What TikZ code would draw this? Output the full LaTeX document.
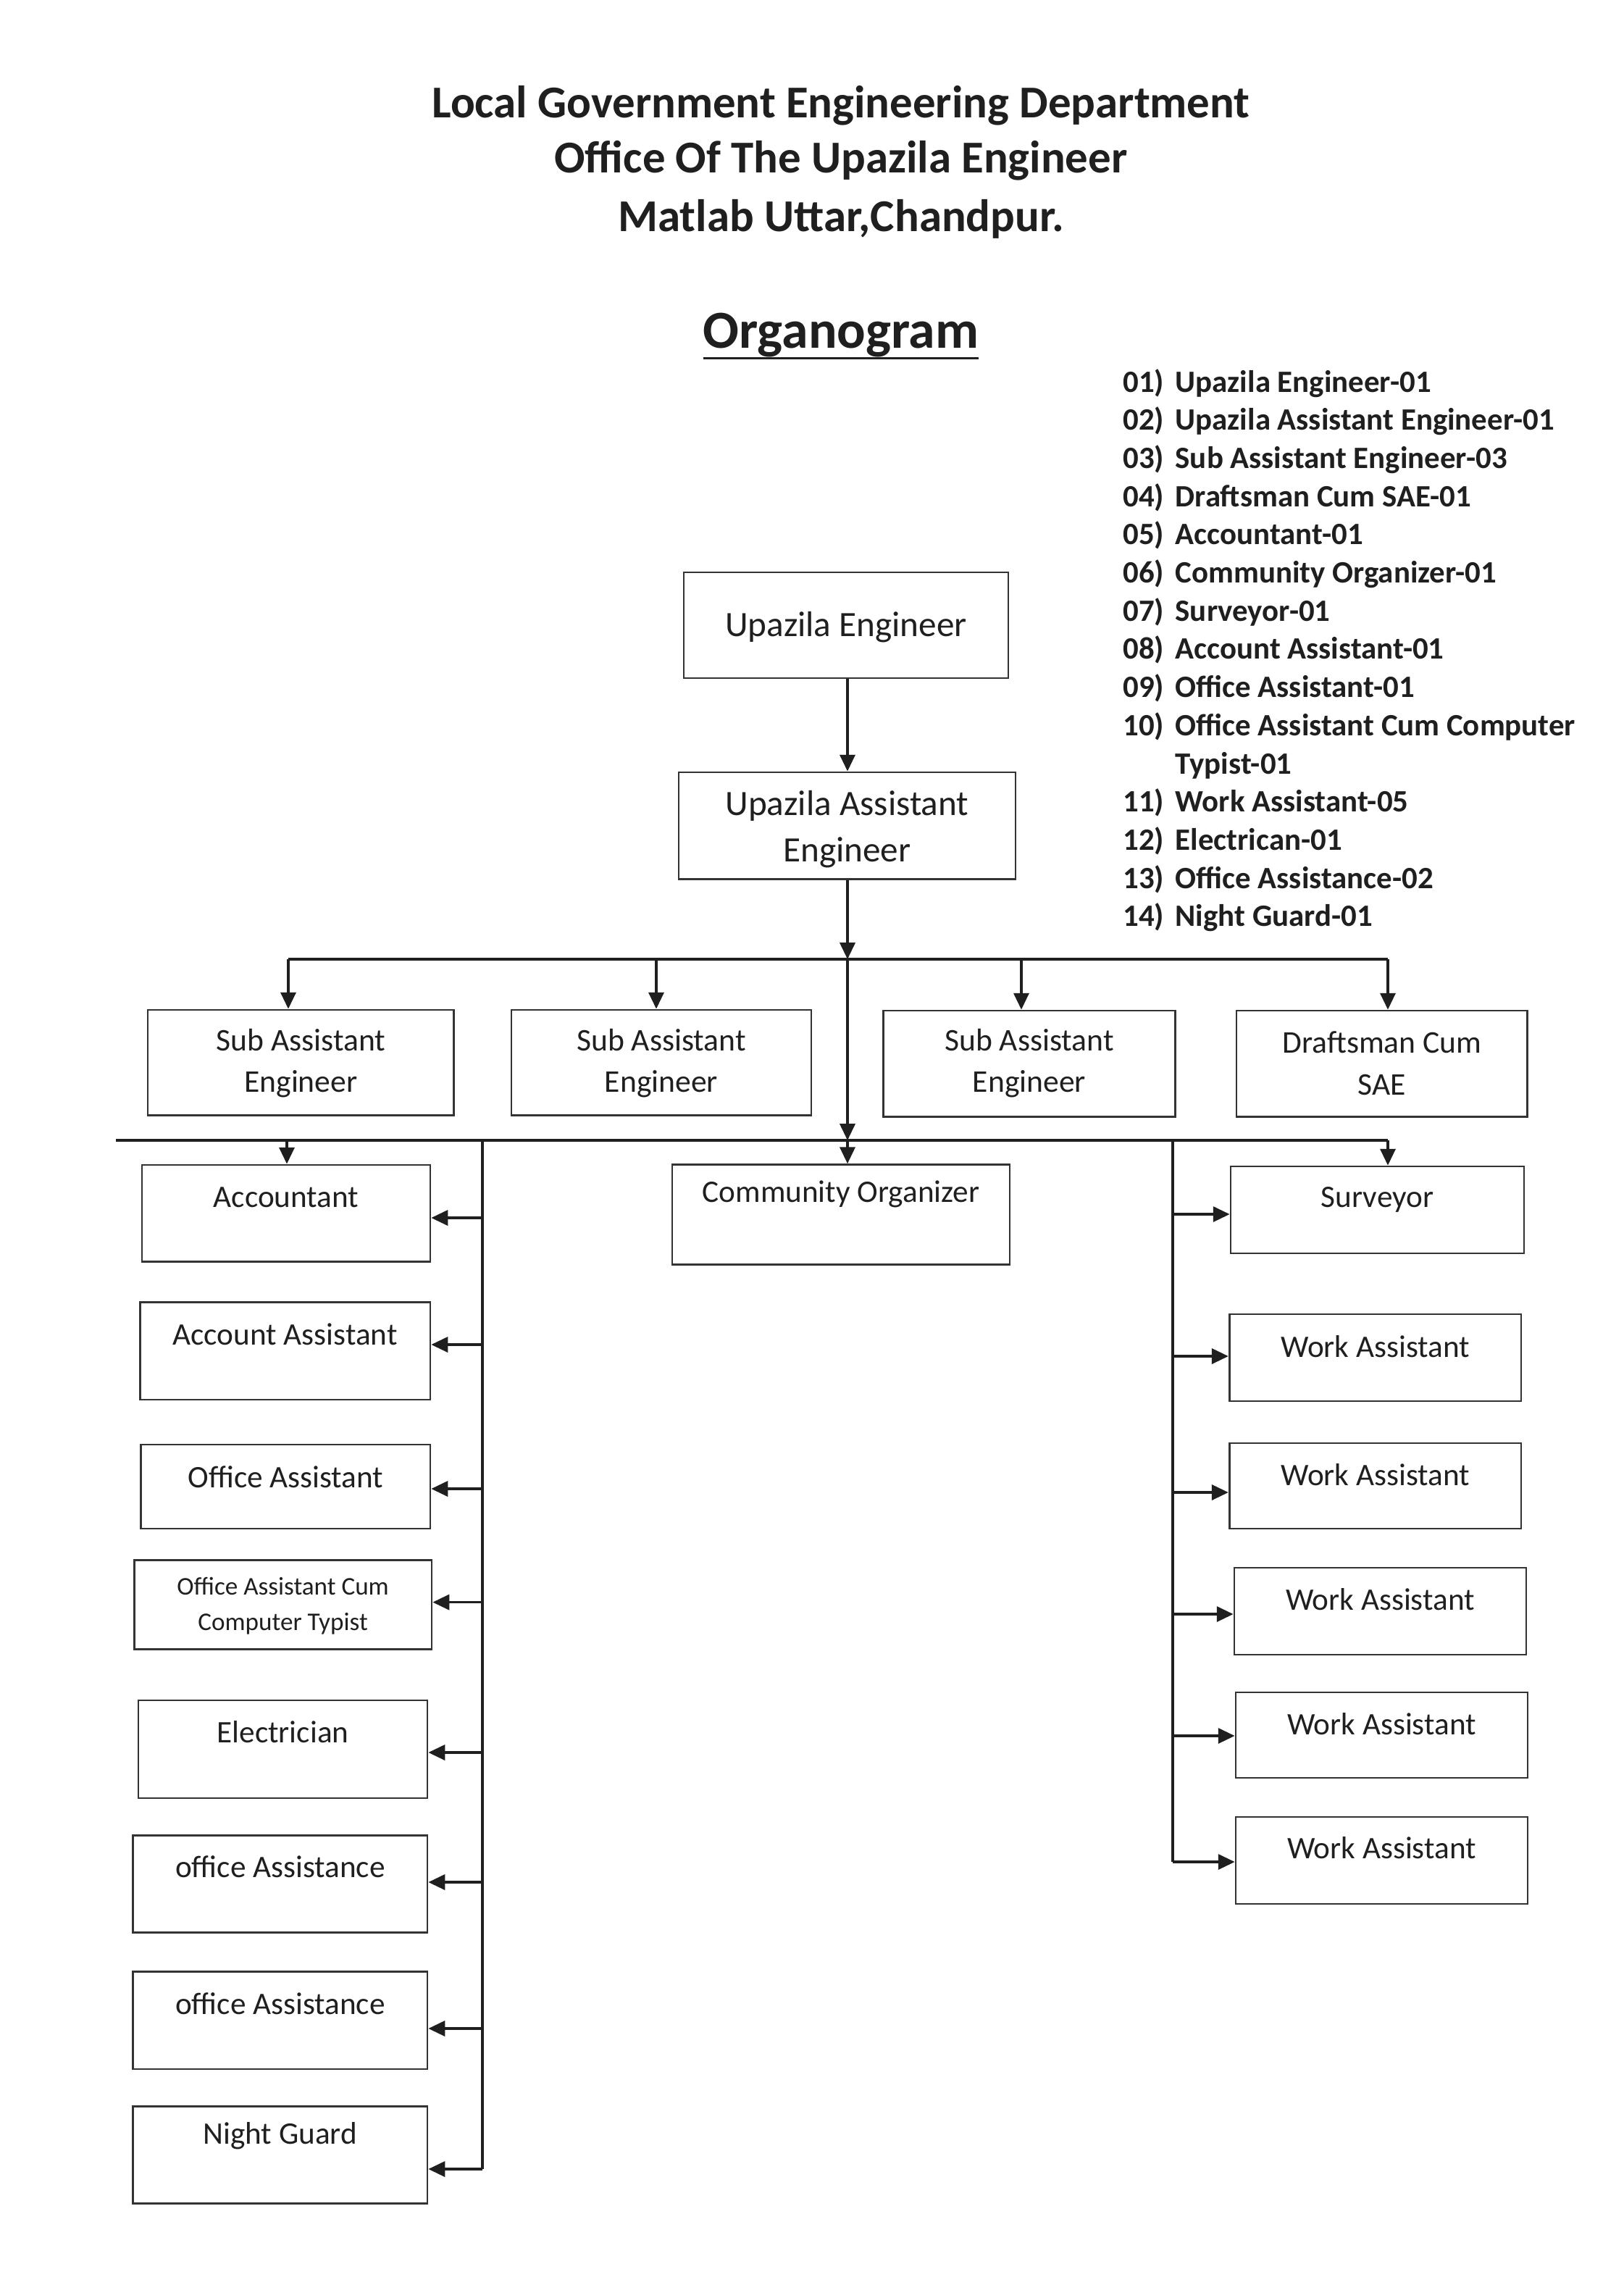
\documentclass[tikz,border=0pt]{standalone}
\usepackage{fontspec}
\setmainfont{Carlito}
\usetikzlibrary{arrows.meta}
\newcommand\ftop{\fontsize{14}{18.2}\selectfont}
\newcommand\fmid{\fontsize{12.4}{16.5}\selectfont}
\newcommand\fbx{\fontsize{12.3}{15}\selectfont}
\newcommand\fsm{\fontsize{10}{13.7}\selectfont}
\newcommand\ftitle{\fontsize{17.9}{21}\selectfont\bfseries}
\newcommand\forg{\fontsize{21}{24}\selectfont\bfseries}
\newcommand\flist{\fontsize{12.2}{15}\selectfont\bfseries}
\newcommand\myul[1]{\setbox0\hbox{#1}\rlap{\rule[-4.3pt]{\wd0}{0.9pt}}\box0}
\newcommand{\orgbox}[8]{%
  \pgfmathsetmacro\obcx{(#2+#4)/2}%
  \pgfmathsetmacro\obcy{(#3+#5)/2}%
  \pgfmathsetmacro\obw{(#4-#2)*0.02}%
  \pgfmathsetmacro\obh{(#5-#3)*0.02}%
  \pgfmathsetmacro\obd{-#6*0.02}%
  \node[box, minimum width=\obw cm, minimum height=\obh cm,
    label={[lbl, font=#7, anchor=center, yshift=\obd cm]north:{#8}}] (#1) at (\obcx,\obcy) {};%
}
\begin{document}
\begin{tikzpicture}[x=0.02cm,y=-0.02cm,
  box/.style={draw=black!80, line width=0.8pt, rectangle, inner sep=0pt, fill=white},
  lbl/.style={text=black!88, align=center, inner sep=0pt},
  conn/.style={draw=black!88, line width=0.9pt},
  arr/.style={conn, -{Triangle[length=6.5pt,width=6pt]}},
  ttl/.style={text=black!88, inner sep=0pt}
]
\fill[white] (0,0) rectangle (1121,1571.5);
\useasboundingbox (0,0) rectangle (1121,1571.5);

% titles
\node[ttl, font=\ftitle] (t1) at (580.5,73) {Local Government Engineering Department};
\node[ttl, font=\ftitle] (t2) at (580.5,110.8) {Office Of The Upazila Engineer};
\node[ttl, font=\ftitle] (t3) at (580.5,151) {Matlab Uttar,Chandpur.};
\node[ttl, font=\forg] (org) at (580.5,232) {\myul{Organogram}};

% list
\node[ttl, font=\flist, anchor=base west] (list) at (774.8,270.5) {%
\renewcommand\arraystretch{1}%
\begin{tabular}[t]{@{}p{20.6pt}@{}l@{}}
01) & Upazila Engineer-01\\
02) & Upazila Assistant Engineer-01\\
03) & Sub Assistant Engineer-03\\
04) & Draftsman Cum SAE-01\\
05) & Accountant-01\\
06) & Community Organizer-01\\
07) & Surveyor-01\\
08) & Account Assistant-01\\
09) & Office Assistant-01\\
10) & Office Assistant Cum Computer\\
    & Typist-01\\
11) & Work Assistant-05\\
12) & Electrican-01\\
13) & Office Assistance-02\\
14) & Night Guard-01
\end{tabular}};

% boxes
\orgbox{ue}{472}{395}{696}{468}{38.5}{\ftop}{Upazila Engineer}
\orgbox{uae}{468.5}{533}{701}{606.7}{40.25}{\ftop}{Upazila Assistant\\Engineer}
\orgbox{sae1}{102}{697}{313.4}{769.7}{37.5}{\fmid}{Sub Assistant\\Engineer}
\orgbox{sae2}{353}{697}{560}{769.7}{37.5}{\fmid}{Sub Assistant\\Engineer}
\orgbox{sae3}{609.6}{697.5}{811.4}{770.8}{37}{\fmid}{Sub Assistant\\Engineer}
\orgbox{dcs}{853.5}{697.5}{1054.4}{770.8}{37}{\fmid}{Draftsman Cum\\SAE}
\orgbox{acc}{98}{804}{297}{870.6}{23}{\fbx}{Accountant}
\orgbox{acca}{96.6}{898.6}{297}{966}{23}{\fbx}{Account Assistant}
\orgbox{oa}{97.4}{997}{297}{1055}{23}{\fbx}{Office Assistant}
\orgbox{oact}{92.6}{1076.7}{298}{1138.4}{32.3}{\fsm}{Office Assistant Cum\\Computer Typist}
\orgbox{elec}{95.5}{1173.5}{295}{1241}{22.5}{\fbx}{Electrician}
\orgbox{oaa}{91.8}{1266.8}{295}{1333.7}{22.2}{\fbx}{office Assistance}
\orgbox{oab}{91.8}{1360.7}{295}{1428}{22.7}{\fbx}{office Assistance}
\orgbox{ng}{91.8}{1453.6}{295}{1520.7}{21.4}{\fbx}{Night Guard}
\orgbox{co}{464}{803.8}{697}{872.8}{21.2}{\fbx}{Community Organizer}
\orgbox{surv}{849.5}{805}{1052}{865}{23.5}{\fbx}{Surveyor}
\orgbox{wa1}{848.6}{907}{1050}{967}{23}{\fbx}{Work Assistant}
\orgbox{wa2}{848.6}{996}{1050}{1055}{22.6}{\fbx}{Work Assistant}
\orgbox{wa3}{852}{1082}{1053.5}{1142}{22.6}{\fbx}{Work Assistant}
\orgbox{wa4}{853}{1168}{1054.5}{1227}{22.5}{\fbx}{Work Assistant}
\orgbox{wa5}{853}{1254}{1054.5}{1314}{21.8}{\fbx}{Work Assistant}

% junction coordinates
\coordinate (j1) at (585,662);
\coordinate (j2) at (585,787);
\coordinate (b1L) at (199,662);
\coordinate (b1b) at (453,662);
\coordinate (b1c) at (705,662);
\coordinate (b1R) at (958,662);
\coordinate (b2L) at (80,787);
\coordinate (b2a) at (198,787);
\coordinate (b2R) at (958,787);
\coordinate (lsT) at (333,787);
\coordinate (lsB) at (333,1497);
\coordinate (rsT) at (809.5,787);
\coordinate (rsB) at (809.5,1285);

% main spine
\draw[arr] (ue.south -| j1) -- (uae.north -| j1);
\draw[arr] (uae.south -| j1) -- (j1);
\draw[arr] (j1) -- (j2);
\draw[arr] (j2) -- (co.north -| j2);

% first bar
\draw[conn] (b1L) -- (b1R);
\draw[arr] (b1L) -- (sae1.north -| b1L);
\draw[arr] (b1b) -- (sae2.north -| b1b);
\draw[arr] (b1c) -- (sae3.north -| b1c);
\draw[arr] (b1R) -- (dcs.north -| b1R);

% second bar
\draw[conn] (b2L) -- (b2R);
\draw[arr] (b2a) -- (acc.north -| b2a);
\draw[arr] (b2R) -- (surv.north -| b2R);

% left spine
\draw[conn] (lsT) -- (lsB);
\foreach \n/\yy in {acc/840.5, acca/928, oa/1027.5, oact/1105.8, elec/1209.5, oaa/1299, oab/1400, ng/1497}{
  \coordinate (L\n) at (333,\yy);
  \draw[arr] (L\n) -- (\n.east |- L\n);
}

% right spine
\draw[conn] (rsT) -- (rsB);
\foreach \n/\yy in {surv/838, wa1/936, wa2/1030, wa3/1114, wa4/1198, wa5/1285}{
  \coordinate (R\n) at (809.5,\yy);
  \draw[arr] (R\n) -- (\n.west |- R\n);
}
\end{tikzpicture}
\end{document}
